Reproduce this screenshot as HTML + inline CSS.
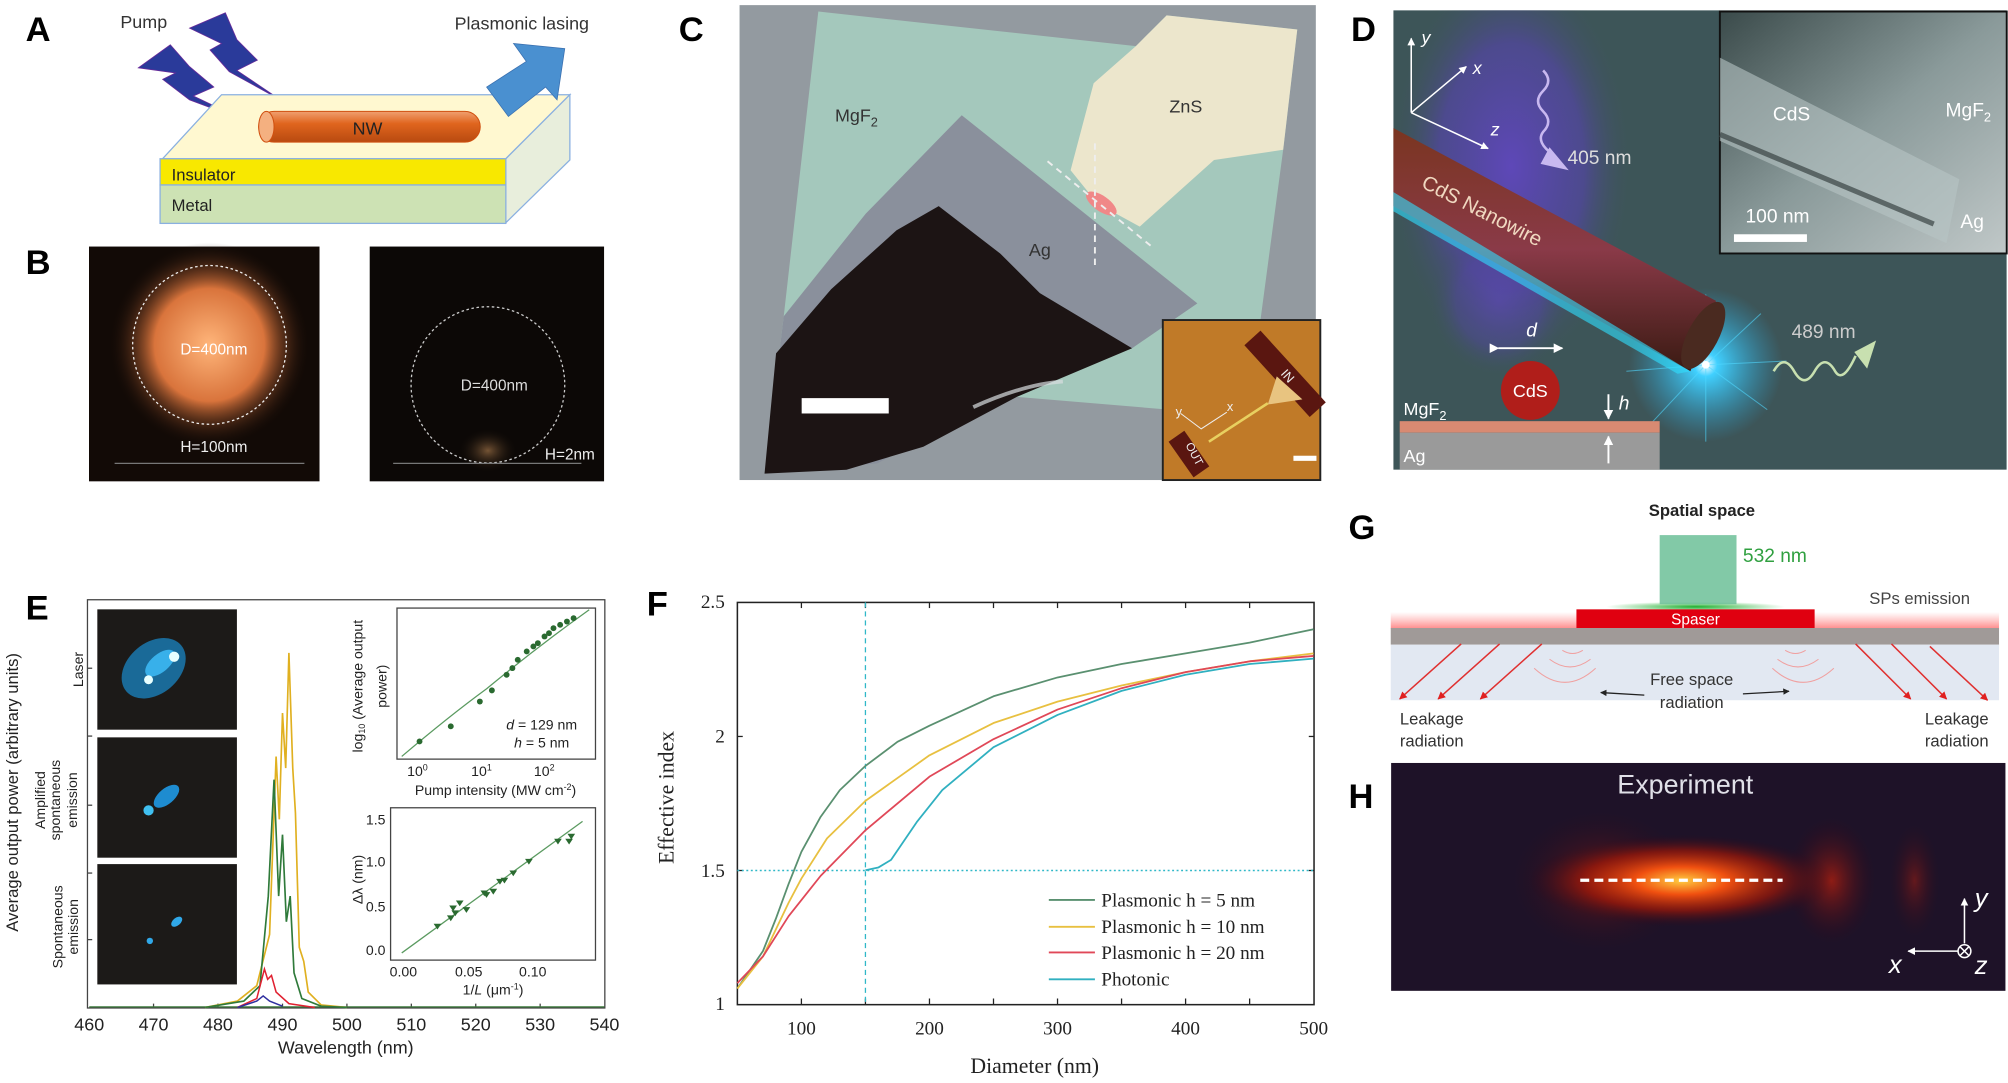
<!DOCTYPE html>
<html><head><meta charset="utf-8"><style>
html,body{margin:0;padding:0;background:#fff;}
svg{display:block;}
text{font-family:"Liberation Sans",sans-serif;}
.serif{font-family:"Liberation Serif",serif;}
</style></head><body>
<svg width="2008" height="1083" viewBox="0 0 1568 846" preserveAspectRatio="none" xmlns="http://www.w3.org/2000/svg">
<defs>
<clipPath id="clipD"><rect x="1088" y="8" width="479" height="359"/></clipPath>
<radialGradient id="glowB" cx="0.5" cy="0.5" r="0.5"><stop offset="0" stop-color="#ffb57a"/><stop offset="0.55" stop-color="#d9743c"/><stop offset="1" stop-color="#1a0d08" stop-opacity="0"/></radialGradient>
<radialGradient id="glowB2" cx="0.5" cy="0.5" r="0.5"><stop offset="0" stop-color="#c8905a" stop-opacity="0.8"/><stop offset="1" stop-color="#000" stop-opacity="0"/></radialGradient>
<linearGradient id="nw" x1="0" y1="0" x2="0" y2="1"><stop offset="0" stop-color="#f0a070"/><stop offset="0.4" stop-color="#e0651e"/><stop offset="1" stop-color="#b84a10"/></linearGradient>
<radialGradient id="purp" cx="0.5" cy="0.5" r="0.5"><stop offset="0" stop-color="#5e48b8"/><stop offset="0.6" stop-color="#5246a0" stop-opacity="0.75"/><stop offset="1" stop-color="#3d5558" stop-opacity="0"/></radialGradient>
<linearGradient id="wire" x1="0" y1="0" x2="0" y2="1"><stop offset="0" stop-color="#7a3520"/><stop offset="0.5" stop-color="#8a3a48"/><stop offset="1" stop-color="#3a1a12"/></linearGradient>
<radialGradient id="star" cx="0.5" cy="0.5" r="0.5"><stop offset="0" stop-color="#ffffff"/><stop offset="0.15" stop-color="#40d0ff"/><stop offset="1" stop-color="#2aa0d0" stop-opacity="0"/></radialGradient>
<linearGradient id="sem" x1="0" y1="0" x2="1" y2="1"><stop offset="0" stop-color="#3a4a4a"/><stop offset="0.5" stop-color="#8a9a9a"/><stop offset="1" stop-color="#c0c8c8"/></linearGradient>
<radialGradient id="hglow" cx="0.5" cy="0.5" r="0.5"><stop offset="0" stop-color="#ffcc40"/><stop offset="0.3" stop-color="#f05010"/><stop offset="0.65" stop-color="#a01808" stop-opacity="0.7"/><stop offset="1" stop-color="#300818" stop-opacity="0"/></radialGradient>
<radialGradient id="hglow2" cx="0.5" cy="0.5" r="0.5"><stop offset="0" stop-color="#b02010" stop-opacity="0.8"/><stop offset="1" stop-color="#300818" stop-opacity="0"/></radialGradient>
<linearGradient id="redglow" x1="0" y1="0" x2="0" y2="1"><stop offset="0" stop-color="#ff6060" stop-opacity="0"/><stop offset="1" stop-color="#ff4040" stop-opacity="0.6"/></linearGradient>
<radialGradient id="greenglow" cx="0.5" cy="0.5" r="0.5"><stop offset="0" stop-color="#20b030"/><stop offset="1" stop-color="#20b030" stop-opacity="0"/></radialGradient>
<marker id="ar" viewBox="0 0 10 10" refX="9" refY="5" markerWidth="5" markerHeight="5" orient="auto"><path d="M0,0L10,5L0,10z" fill="#e02020"/></marker>
<marker id="ak" viewBox="0 0 10 10" refX="9" refY="5" markerWidth="5" markerHeight="5" orient="auto"><path d="M0,0L10,5L0,10z" fill="#222"/></marker>
<marker id="aw" viewBox="0 0 10 10" refX="9" refY="5" markerWidth="5" markerHeight="5" orient="auto"><path d="M0,0L10,5L0,10z" fill="#fff"/></marker>
</defs>

<!-- ===== A ===== -->
<text x="20" y="32" font-size="27" font-weight="bold">A</text>
<text x="94" y="22" font-size="14" fill="#333">Pump</text>
<text x="355" y="23" font-size="14" fill="#333">Plasmonic lasing</text>
<polygon points="148,22 176,10 185,31 201,47 185,55 219,78 179,56 164,39 173,34" fill="#2a3a9a" stroke="#6a2a9a" stroke-width="0.6"/>
<polygon points="108,53 133,35 148,52 167,68 151,75 191,94 148,78 127,62 137,57" fill="#2a3a9a" stroke="#6a2a9a" stroke-width="0.6"/>
<polygon points="127,124 173,74 445,74 395,124" fill="#fff8d0" stroke="#8ab0e0" stroke-width="1"/>
<polygon points="395,124 445,74 445,125 395,174" fill="#e8eedc" stroke="#8ab0e0" stroke-width="1"/>
<rect x="125" y="124" width="270" height="20.5" fill="#f8e800" stroke="#8ab0e0" stroke-width="1"/>
<rect x="125" y="144.5" width="270" height="30" fill="#cde2b4" stroke="#8ab0e0" stroke-width="1"/>
<polygon points="380,68 411,48 401,34 441,38 435,78 426,68 397,91" fill="#4a90d0" stroke="#3a70b0" stroke-width="0.6"/>
<rect x="202" y="87" width="173" height="24" rx="12" fill="url(#nw)" stroke="#d05010" stroke-width="0.8"/>
<ellipse cx="208" cy="99" rx="6" ry="12" fill="#f4b080" stroke="#d05010" stroke-width="0.8"/>
<text x="287" y="105" font-size="14" text-anchor="middle" fill="#222">NW</text>
<text x="134" y="141" font-size="13" fill="#222">Insulator</text>
<text x="134" y="165" font-size="13" fill="#222">Metal</text>

<!-- ===== B ===== -->
<text x="20" y="214" font-size="27" font-weight="bold">B</text>
<rect x="69.5" y="192.6" width="180" height="183.4" fill="#120a06"/>
<ellipse cx="163.6" cy="269.4" rx="78" ry="80" fill="url(#glowB)"/>
<ellipse cx="163.6" cy="269.4" rx="60" ry="62" fill="none" stroke="#eee" stroke-width="1" stroke-dasharray="2,2"/>
<text x="167" y="277" font-size="12" fill="#fff" text-anchor="middle">D=400nm</text>
<text x="167" y="353" font-size="12" fill="#eee" text-anchor="middle">H=100nm</text>
<line x1="89.5" y1="362" x2="237.7" y2="362" stroke="#777" stroke-width="1"/>
<rect x="288.7" y="192.6" width="183" height="183.4" fill="#0c0806"/>
<ellipse cx="381" cy="352" rx="24" ry="18" fill="url(#glowB2)" opacity="0.7"/>
<ellipse cx="381" cy="300.6" rx="60" ry="61" fill="none" stroke="#ccc" stroke-width="1" stroke-dasharray="2,2"/>
<text x="386" y="305" font-size="12" fill="#ddd" text-anchor="middle">D=400nm</text>
<text x="445" y="359" font-size="12" fill="#eee" text-anchor="middle">H=2nm</text>
<line x1="307" y1="362" x2="454" y2="362" stroke="#777" stroke-width="1"/>

<!-- ===== C ===== -->
<text x="530" y="32" font-size="27" font-weight="bold">C</text>
<rect x="577.5" y="4" width="450" height="371" fill="#939aa0"/>
<polygon points="639,9 887,36 911,12 1013,23 1002,117 984,252 972,325 794,310 597,370 612,247" fill="#a4c8bc"/>
<polygon points="911,12 1013,23 1002,117 948,125 890,177 857,159 836,133 854,65 887,36" fill="#ece6cc"/>
<polygon points="751,90 935,237 884,272 781,312 685,362 597,370 612,247 676,167" fill="#8a909c"/>
<polygon points="733,161 781,198 812,229 884,272 794,310 721,349 661,367 597,370 606,276 649,226 700,180" fill="#1c1414"/>
<path d="M760,318 Q800,300 830,298" stroke="#d8dde0" stroke-width="3" fill="none" opacity="0.7"/>
<text x="652" y="95" font-size="14" fill="#333">MgF<tspan font-size="10" dy="4">2</tspan></text>
<text x="926" y="88" font-size="14" fill="#333" text-anchor="middle">ZnS</text>
<text x="812" y="200" font-size="14" fill="#333" text-anchor="middle">Ag</text>
<ellipse cx="860" cy="159" rx="14" ry="6" fill="#f08888" transform="rotate(35 860 159)"/>
<line x1="818" y1="126" x2="901" y2="194" stroke="#eee" stroke-width="1.5" stroke-dasharray="5,4"/>
<line x1="855" y1="112" x2="855" y2="208" stroke="#eee" stroke-width="1.5" stroke-dasharray="5,4"/>
<rect x="626" y="311" width="68" height="12" fill="#fff"/>
<rect x="908" y="250" width="123" height="125" fill="#c07a28" stroke="#222" stroke-width="1.5"/>
<line x1="978" y1="264" x2="1029" y2="320" stroke="#5a1610" stroke-width="17"/>
<text x="1003" y="296" font-size="10" fill="#eee" transform="rotate(48 1003 296)" text-anchor="middle">IN</text>
<polygon points="997,294 1017,312 990,316" fill="#e8c480"/>
<line x1="990" y1="315" x2="944" y2="345" stroke="#e8d060" stroke-width="2"/>
<rect x="921" y="338" width="15" height="34" fill="#5a1610" transform="rotate(-35 928 355)"/>
<text x="930" y="356" font-size="9" fill="#eee" transform="rotate(62 930 356)" text-anchor="middle">OUT</text>
<polyline points="922,323 938,335 958,322" fill="none" stroke="#eee" stroke-width="0.8"/>
<text x="918" y="325" font-size="10" fill="#eee">y</text>
<text x="958" y="321" font-size="10" fill="#eee">x</text>
<rect x="1010" y="356" width="18" height="4" fill="#fff"/>

<!-- ===== D ===== -->
<text x="1055" y="32" font-size="27" font-weight="bold">D</text>
<g clip-path="url(#clipD)">
<rect x="1088" y="8" width="479" height="359" fill="#3d5558"/>
<ellipse cx="1180" cy="130" rx="95" ry="160" fill="url(#purp)"/>
<ellipse cx="1170" cy="235" rx="55" ry="60" fill="url(#purp)" opacity="0.6"/>
<circle cx="1332" cy="285" r="60" fill="url(#star)"/>
<g stroke="#50d8ff" stroke-width="0.8" opacity="0.6">
<line x1="1332" y1="285" x2="1280" y2="250"/><line x1="1332" y1="285" x2="1380" y2="320"/><line x1="1332" y1="285" x2="1290" y2="330"/><line x1="1332" y1="285" x2="1375" y2="245"/><line x1="1332" y1="285" x2="1332" y2="230"/><line x1="1332" y1="285" x2="1332" y2="345"/><line x1="1332" y1="285" x2="1270" y2="290"/><line x1="1332" y1="285" x2="1395" y2="282"/>
</g>
<polygon points="1088,100 1340,235 1320,290 1088,161" fill="url(#wire)"/>
<polygon points="1088,150 1320,290 1310,292 1088,165" fill="#30e0ff" opacity="0.6"/>
<ellipse cx="1330" cy="262" rx="12" ry="29" fill="#4a2a20" transform="rotate(28 1330 262)"/>
<circle cx="1332" cy="285" r="3" fill="#fff"/>
<text x="1109" y="146" font-size="16" fill="#f0d8c0" transform="rotate(27 1109 146)">CdS Nanowire</text>
<g stroke="#fff" stroke-width="1.2" fill="none">
<line x1="1102" y1="88" x2="1102" y2="30" marker-end="url(#aw)"/>
<line x1="1102" y1="88" x2="1145" y2="52" marker-end="url(#aw)"/>
<line x1="1102" y1="88" x2="1162" y2="116" marker-end="url(#aw)"/>
</g>
<text x="1110" y="34" font-size="14" fill="#fff" font-style="italic">y</text>
<text x="1150" y="58" font-size="14" fill="#fff" font-style="italic">x</text>
<text x="1164" y="106" font-size="14" fill="#fff" font-style="italic">z</text>
<path d="M1205,55 q8,8 0,16 q-8,8 0,16 q8,8 0,16 q-6,8 8,18" stroke="#c8b8f0" stroke-width="2" fill="none"/>
<polygon points="1210,115 1225,133 1203,128" fill="#c8b8f0"/>
<text x="1224" y="128" font-size="15" fill="#ddd">405 nm</text>
<path d="M1385,290 q8,-14 16,0 q8,14 16,0 q8,-14 16,0 q6,10 16,-12" stroke="#c8e0b0" stroke-width="2" fill="none"/>
<polygon points="1465,266 1448,275 1458,288" fill="#c8e0b0"/>
<text x="1399" y="264" font-size="15" fill="#ccc">489 nm</text>
<text x="1196" y="263" font-size="15" fill="#fff" font-style="italic" text-anchor="middle">d</text>
<line x1="1170" y1="272" x2="1220" y2="272" stroke="#fff" stroke-width="1.5" marker-end="url(#aw)" marker-start="url(#aw)"/>
<rect x="1093" y="329" width="203" height="9" fill="#d88a72"/>
<rect x="1093" y="338" width="203" height="29" fill="#9a9a9a"/>
<circle cx="1195" cy="305" r="23" fill="#b01e1a"/>
<text x="1195" y="310" font-size="14" fill="#fff" text-anchor="middle">CdS</text>
<text x="1096" y="324" font-size="14" fill="#fff">MgF<tspan font-size="10" dy="4">2</tspan></text>
<text x="1096" y="361" font-size="14" fill="#fff">Ag</text>
<line x1="1256" y1="308" x2="1256" y2="327" stroke="#fff" stroke-width="1.5" marker-end="url(#aw)"/>
<line x1="1256" y1="362" x2="1256" y2="341" stroke="#fff" stroke-width="1.5" marker-end="url(#aw)"/>
<text x="1264" y="320" font-size="15" fill="#fff" font-style="italic">h</text>
</g>
<rect x="1343" y="9" width="224" height="189" fill="url(#sem)" stroke="#111" stroke-width="1.5"/>
<polygon points="1343,45 1530,140 1520,190 1343,110" fill="#b8c4c4" opacity="0.6"/>
<line x1="1343" y1="105" x2="1510" y2="175" stroke="#3a4444" stroke-width="4" opacity="0.7"/>
<text x="1399" y="94" font-size="15" fill="#fff" text-anchor="middle">CdS</text>
<text x="1537" y="91" font-size="15" fill="#fff" text-anchor="middle">MgF<tspan font-size="10" dy="4">2</tspan></text>
<text x="1388" y="174" font-size="15" fill="#fff" text-anchor="middle">100 nm</text>
<rect x="1354" y="183" width="57" height="6" fill="#fff"/>
<text x="1540" y="178" font-size="15" fill="#fff" text-anchor="middle">Ag</text>

<!-- ===== E ===== -->
<text x="20" y="484" font-size="27" font-weight="bold">E</text>
<rect x="68.3" y="468.5" width="404" height="318.9" fill="none" stroke="#444" stroke-width="1"/>
<g stroke="#444" stroke-width="1">
<line x1="68.3" y1="522" x2="72" y2="522"/><line x1="68.3" y1="575" x2="72" y2="575"/><line x1="68.3" y1="629" x2="72" y2="629"/><line x1="68.3" y1="682" x2="72" y2="682"/><line x1="68.3" y1="734" x2="72" y2="734"/>
<line x1="119.9" y1="787.4" x2="119.9" y2="784"/><line x1="170.2" y1="787.4" x2="170.2" y2="784"/><line x1="220.6" y1="787.4" x2="220.6" y2="784"/><line x1="270.9" y1="787.4" x2="270.9" y2="784"/><line x1="321.2" y1="787.4" x2="321.2" y2="784"/><line x1="371.5" y1="787.4" x2="371.5" y2="784"/><line x1="421.8" y1="787.4" x2="421.8" y2="784"/>
</g>
<rect x="76" y="476" width="109" height="94" fill="#1c1a18"/>
<rect x="76" y="576" width="109" height="94" fill="#1c1a18"/>
<rect x="76" y="675" width="109" height="94" fill="#1c1a18"/>
<ellipse cx="120" cy="522" rx="28" ry="20" fill="#1a6a98" transform="rotate(-40 120 522)"/>
<ellipse cx="125" cy="518" rx="14" ry="7" fill="#38b0ea" transform="rotate(-40 125 518)"/>
<circle cx="136" cy="513" r="4" fill="#e8ffff"/><circle cx="116" cy="531" r="3.5" fill="#e8ffff"/>
<ellipse cx="130" cy="622" rx="12" ry="6" fill="#1e8cd0" transform="rotate(-40 130 622)"/>
<circle cx="116" cy="633" r="4" fill="#40c0f0"/>
<ellipse cx="138" cy="720" rx="5" ry="3" fill="#30a8e8" transform="rotate(-40 138 720)"/>
<circle cx="117" cy="735" r="2.5" fill="#30a8e8"/>
<text x="10" y="619" font-size="13" fill="#222" text-anchor="middle" transform="rotate(-90 10 619)" dy="4">Average output power (arbitrary units)</text>
<text x="61" y="523" font-size="11" fill="#222" text-anchor="middle" transform="rotate(-90 61 523)" dy="4">Laser</text>
<text x="31" y="625" font-size="11" fill="#222" text-anchor="middle" transform="rotate(-90 31 625)" dy="4">Amplified</text>
<text x="43" y="625" font-size="11" fill="#222" text-anchor="middle" transform="rotate(-90 43 625)" dy="4">spontaneous</text>
<text x="56" y="625" font-size="11" fill="#222" text-anchor="middle" transform="rotate(-90 56 625)" dy="4">emission</text>
<text x="45" y="724" font-size="11" fill="#222" text-anchor="middle" transform="rotate(-90 45 724)" dy="4">Spontaneous</text>
<text x="57" y="724" font-size="11" fill="#222" text-anchor="middle" transform="rotate(-90 57 724)" dy="4">emission</text>
<line x1="69.7" y1="786.5" x2="472" y2="786.5" stroke="#3a7a3a" stroke-width="1"/>
<polyline fill="none" stroke="#e0b020" stroke-width="1.3" points="160.2,787 185.4,782 200.5,770 210.5,730 215.6,591 218.1,640 220.6,557 223.1,600 225.6,510 228.6,600 230.7,635 233.7,740 237.2,751 240.7,775 250.8,785 270.9,787"/>
<polyline fill="none" stroke="#2f7a3a" stroke-width="1.3" points="160.2,787 190.4,782 203,770 209.5,700 214,609 217.6,700 220.6,652 223.6,720 226.6,700 229.6,760 235.7,780 250.8,786 270.9,787"/>
<polyline fill="none" stroke="#e02030" stroke-width="1.2" points="185.4,787 200.5,780 206.5,757 209,765 212,762 215.6,775 225.6,784 245.8,787"/>
<polyline fill="none" stroke="#3030a0" stroke-width="1.2" points="185.4,787 200.5,782 205.5,778 210.5,782 220.6,786"/>
<g font-size="14" fill="#222" text-anchor="middle">
<text x="69.7" y="805">460</text><text x="119.9" y="805">470</text><text x="170.2" y="805">480</text><text x="220.6" y="805">490</text><text x="270.9" y="805">500</text><text x="321.2" y="805">510</text><text x="371.5" y="805">520</text><text x="421.8" y="805">530</text><text x="472" y="805">540</text>
<text x="270" y="823">Wavelength (nm)</text>
</g>
<!-- inset 1 -->
<rect x="310" y="475" width="155" height="118" fill="#fff" stroke="#444" stroke-width="1"/>
<path d="M313.7,590.9 Q350,560 380,538 Q420,505 460.1,476.3" fill="none" stroke="#5a9a60" stroke-width="1"/>
<g fill="#2a6a30">
<circle cx="327.6" cy="579.2" r="2.3"/><circle cx="352" cy="567.4" r="2.3"/><circle cx="374.7" cy="548" r="2.3"/><circle cx="384.1" cy="539.3" r="2.3"/><circle cx="395.6" cy="527.1" r="2.3"/><circle cx="400.1" cy="521.9" r="2.3"/><circle cx="404.3" cy="515.4" r="2.3"/><circle cx="411.3" cy="508.9" r="2.3"/><circle cx="416.5" cy="505" r="2.3"/><circle cx="420" cy="502.4" r="2.3"/><circle cx="425.2" cy="497.2" r="2.3"/><circle cx="428.7" cy="494.6" r="2.3"/><circle cx="432.2" cy="490.7" r="2.3"/><circle cx="437.4" cy="488.1" r="2.3"/><circle cx="442.7" cy="485.5" r="2.3"/><circle cx="447.9" cy="482.9" r="2.3"/>
</g>
<g font-size="11" fill="#222" text-anchor="middle">
<text x="326" y="606">10<tspan font-size="7" dy="-4">0</tspan></text>
<text x="376" y="606">10<tspan font-size="7" dy="-4">1</tspan></text>
<text x="425" y="606">10<tspan font-size="7" dy="-4">2</tspan></text>
<text x="387" y="621">Pump intensity (MW cm<tspan font-size="7" dy="-4">-2</tspan><tspan dy="4">)</tspan></text>
<text x="279" y="536" transform="rotate(-90 279 536)" dy="4">log<tspan font-size="7" dy="2">10</tspan><tspan dy="-2"> (Average output</tspan></text>
<text x="298" y="536" transform="rotate(-90 298 536)" dy="4">power)</text>
</g>
<text x="423" y="570" font-size="11" fill="#222" text-anchor="middle"><tspan font-style="italic">d</tspan> = 129 nm</text>
<text x="423" y="584" font-size="11" fill="#222" text-anchor="middle"><tspan font-style="italic">h</tspan> = 5 nm</text>
<!-- inset 2 -->
<rect x="305" y="631" width="160" height="119" fill="#fff" stroke="#444" stroke-width="1"/>
<line x1="313.7" y1="744.4" x2="454.9" y2="641.6" stroke="#5a9a60" stroke-width="1"/>
<g fill="#2a6a30">
<path d="M338.6,721.6h6l-3,4.5z M349,715.1h6l-3,4.5z M350.8,707.3h6l-3,4.5z M352.5,711.2h6l-3,4.5z M356,703.4h6l-3,4.5z M361.2,708.6h6l-3,4.5z M375.2,695.6h6l-3,4.5z M376.9,696.9h6l-3,4.5z M382.2,694.3h6l-3,4.5z M387.4,686.5h6l-3,4.5z M390.9,685.7h6l-3,4.5z M397.8,680h6l-3,4.5z M410,670.9h6l-3,4.5z M432.7,655.2h6l-3,4.5z M441.4,655.2h6l-3,4.5z M443.1,651.3h6l-3,4.5z"/>
</g>
<g font-size="11" fill="#222">
<text x="301" y="644" text-anchor="end">1.5</text><text x="301" y="677" text-anchor="end">1.0</text><text x="301" y="712" text-anchor="end">0.5</text><text x="301" y="746" text-anchor="end">0.0</text>
<text x="315" y="763" text-anchor="middle">0.00</text><text x="366" y="763" text-anchor="middle">0.05</text><text x="416" y="763" text-anchor="middle">0.10</text>
<text x="385" y="777" text-anchor="middle">1/<tspan font-style="italic">L</tspan> (μm<tspan font-size="7" dy="-4">-1</tspan><tspan dy="4">)</tspan></text>
<text x="279" y="687" text-anchor="middle" transform="rotate(-90 279 687)" dy="4">Δλ (nm)</text>
</g>

<!-- ===== F ===== -->
<text x="505" y="481" font-size="27" font-weight="bold">F</text>
<rect x="575.8" y="470.6" width="450.3" height="314.2" fill="none" stroke="#222" stroke-width="1.2"/>
<g stroke="#222" stroke-width="1">
<line x1="625.8" y1="784.8" x2="625.8" y2="780"/><line x1="675.8" y1="784.8" x2="675.8" y2="780"/><line x1="725.8" y1="784.8" x2="725.8" y2="780"/><line x1="775.8" y1="784.8" x2="775.8" y2="780"/><line x1="825.8" y1="784.8" x2="825.8" y2="780"/><line x1="875.8" y1="784.8" x2="875.8" y2="780"/><line x1="925.8" y1="784.8" x2="925.8" y2="780"/><line x1="975.8" y1="784.8" x2="975.8" y2="780"/>
<line x1="625.8" y1="470.6" x2="625.8" y2="475"/><line x1="675.8" y1="470.6" x2="675.8" y2="475"/><line x1="725.8" y1="470.6" x2="725.8" y2="475"/><line x1="775.8" y1="470.6" x2="775.8" y2="475"/><line x1="825.8" y1="470.6" x2="825.8" y2="475"/><line x1="875.8" y1="470.6" x2="875.8" y2="475"/><line x1="925.8" y1="470.6" x2="925.8" y2="475"/><line x1="975.8" y1="470.6" x2="975.8" y2="475"/>
<line x1="575.8" y1="680" x2="580" y2="680"/><line x1="575.8" y1="575.3" x2="580" y2="575.3"/>
<line x1="1026.1" y1="680" x2="1022" y2="680"/><line x1="1026.1" y1="575.3" x2="1022" y2="575.3"/>
</g>
<line x1="675.8" y1="470.6" x2="675.8" y2="784.8" stroke="#30b8c8" stroke-width="1" stroke-dasharray="4,3"/>
<line x1="575.8" y1="680" x2="1026.1" y2="680" stroke="#30b8c8" stroke-width="1.2" stroke-dasharray="1.5,2"/>
<g fill="none" stroke-width="1.4" stroke-linejoin="round">
<polyline stroke="#5a9070" points="575.8,772.2 595.8,742.9 605.8,717.8 615.8,690.5 625.8,665.4 640.8,638.1 655.8,617.2 675.8,598.3 700.8,579.5 725.8,566.9 775.8,543.9 825.8,529.2 875.8,518.7 925.8,510.4 975.8,502 1025.8,491.5"/>
<polyline stroke="#e8c040" points="575.8,772.2 595.8,747.1 615.8,705.2 625.8,686.3 645.8,654.9 675.8,625.6 725.8,590 775.8,564.8 825.8,548.1 875.8,535.5 925.8,525 975.8,516.6 1025.8,510.4"/>
<polyline stroke="#e04858" points="575.8,768 595.8,747.1 615.8,715.7 640.8,684.2 675.8,648.6 725.8,606.7 775.8,577.4 825.8,554.3 875.8,537.6 925.8,525 975.8,516.6 1025.8,512.4"/>
<polyline stroke="#30b0c0" points="675.8,679.8 685.8,677.7 695.8,671.7 715.8,642.3 735.8,617.2 775.8,583.7 825.8,558.5 875.8,539.7 925.8,527.1 975.8,518.7 1025.8,514.5"/>
</g>
<g class="serif" font-size="15" fill="#222">
<text x="566" y="475" text-anchor="end" class="serif">2.5</text>
<text x="566" y="580" text-anchor="end" class="serif">2</text>
<text x="566" y="685" text-anchor="end" class="serif">1.5</text>
<text x="566" y="789" text-anchor="end" class="serif">1</text>
<text x="625.8" y="808" text-anchor="middle" class="serif">100</text>
<text x="725.8" y="808" text-anchor="middle" class="serif">200</text>
<text x="825.8" y="808" text-anchor="middle" class="serif">300</text>
<text x="925.8" y="808" text-anchor="middle" class="serif">400</text>
<text x="1025.8" y="808" text-anchor="middle" class="serif">500</text>
<text x="808" y="838" text-anchor="middle" class="serif" font-size="17">Diameter (nm)</text>
<text x="521" y="623" text-anchor="middle" class="serif" font-size="17" transform="rotate(-90 521 623)" dy="5">Effective index</text>
</g>
<g stroke-width="1.5">
<line x1="819" y1="703" x2="855" y2="703" stroke="#5a9070"/>
<line x1="819" y1="724" x2="855" y2="724" stroke="#e8c040"/>
<line x1="819" y1="744" x2="855" y2="744" stroke="#e04858"/>
<line x1="819" y1="765" x2="855" y2="765" stroke="#30b0c0"/>
</g>
<g font-size="15" fill="#222">
<text x="860" y="708" class="serif">Plasmonic h = 5 nm</text>
<text x="860" y="729" class="serif">Plasmonic h = 10 nm</text>
<text x="860" y="749" class="serif">Plasmonic h = 20 nm</text>
<text x="860" y="770" class="serif">Photonic</text>
</g>

<!-- ===== G ===== -->
<text x="1053" y="421" font-size="27" font-weight="bold">G</text>
<text x="1329" y="403" font-size="13" fill="#222" text-anchor="middle" font-weight="bold">Spatial space</text>
<ellipse cx="1324" cy="474" rx="70" ry="4" fill="url(#greenglow)"/>
<rect x="1296" y="418" width="60" height="54" fill="#6cc098" opacity="0.85"/>
<text x="1361" y="439" font-size="15" fill="#30a040">532 nm</text>
<text x="1499" y="472" font-size="13" fill="#444" text-anchor="middle">SPs emission</text>
<rect x="1086" y="478" width="475" height="13" fill="url(#redglow)"/>
<rect x="1231" y="476" width="186" height="14.6" fill="#e00010"/>
<text x="1324" y="488" font-size="12" fill="#fff" text-anchor="middle">Spaser</text>
<rect x="1086" y="490.6" width="475" height="13" fill="#a09a98"/>
<rect x="1086" y="503.6" width="475" height="43.4" fill="#e2e8f2"/>
<g stroke="#e03030" stroke-width="1.2" fill="none" marker-end="url(#ar)">
<line x1="1141" y1="503" x2="1093" y2="546"/><line x1="1171" y1="503" x2="1123" y2="546"/><line x1="1204" y1="503" x2="1156" y2="546"/>
<line x1="1449" y1="503" x2="1492" y2="546"/><line x1="1477" y1="503" x2="1520" y2="546"/><line x1="1507" y1="505" x2="1552" y2="547"/>
</g>
<g stroke="#f0a0a0" stroke-width="0.8" fill="none">
<path d="M1220,508 q8,5 16,0"/><path d="M1210,515 q16,12 32,0"/><path d="M1198,522 q24,22 48,0"/>
<path d="M1410,508 q-8,5 -16,0"/><path d="M1420,515 q-16,12 -32,0"/><path d="M1432,522 q-24,22 -48,0"/>
</g>
<g stroke="#222" stroke-width="1" marker-end="url(#ak)">
<line x1="1284" y1="543" x2="1250" y2="541"/><line x1="1361" y1="542" x2="1397" y2="540"/>
</g>
<text x="1321" y="535" font-size="13" fill="#333" text-anchor="middle">Free space</text>
<text x="1321" y="553" font-size="13" fill="#333" text-anchor="middle">radiation</text>
<text x="1118" y="566" font-size="13" fill="#333" text-anchor="middle">Leakage</text>
<text x="1118" y="583" font-size="13" fill="#333" text-anchor="middle">radiation</text>
<text x="1528" y="566" font-size="13" fill="#333" text-anchor="middle">Leakage</text>
<text x="1528" y="583" font-size="13" fill="#333" text-anchor="middle">radiation</text>

<!-- ===== H ===== -->
<text x="1053" y="631" font-size="27" font-weight="bold">H</text>
<rect x="1086.3" y="596" width="479.7" height="178" fill="#1e1228"/>
<ellipse cx="1430" cy="688" rx="35" ry="50" fill="url(#hglow2)"/>
<ellipse cx="1495" cy="688" rx="20" ry="45" fill="url(#hglow2)" opacity="0.6"/>
<ellipse cx="1250" cy="688" rx="70" ry="55" fill="url(#hglow2)" opacity="0.7"/>
<ellipse cx="1313" cy="688" rx="120" ry="36" fill="url(#hglow)"/>
<line x1="1234" y1="687.6" x2="1392" y2="687.6" stroke="#fff" stroke-width="2.5" stroke-dasharray="7,4"/>
<text x="1316" y="620" font-size="21" fill="#e0e0e8" text-anchor="middle">Experiment</text>
<g stroke="#fff" stroke-width="1.2" fill="none">
<line x1="1534" y1="737" x2="1534" y2="702" marker-end="url(#aw)"/>
<line x1="1529" y1="743" x2="1490" y2="743" marker-end="url(#aw)"/>
<circle cx="1534" cy="743" r="5"/>
<line x1="1530.5" y1="739.5" x2="1537.5" y2="746.5"/><line x1="1537.5" y1="739.5" x2="1530.5" y2="746.5"/>
</g>
<text x="1542" y="708" font-size="20" fill="#fff" font-style="italic">y</text>
<text x="1475" y="760" font-size="20" fill="#fff" font-style="italic">x</text>
<text x="1542" y="761" font-size="20" fill="#fff" font-style="italic">z</text>
</svg>
</body></html>
